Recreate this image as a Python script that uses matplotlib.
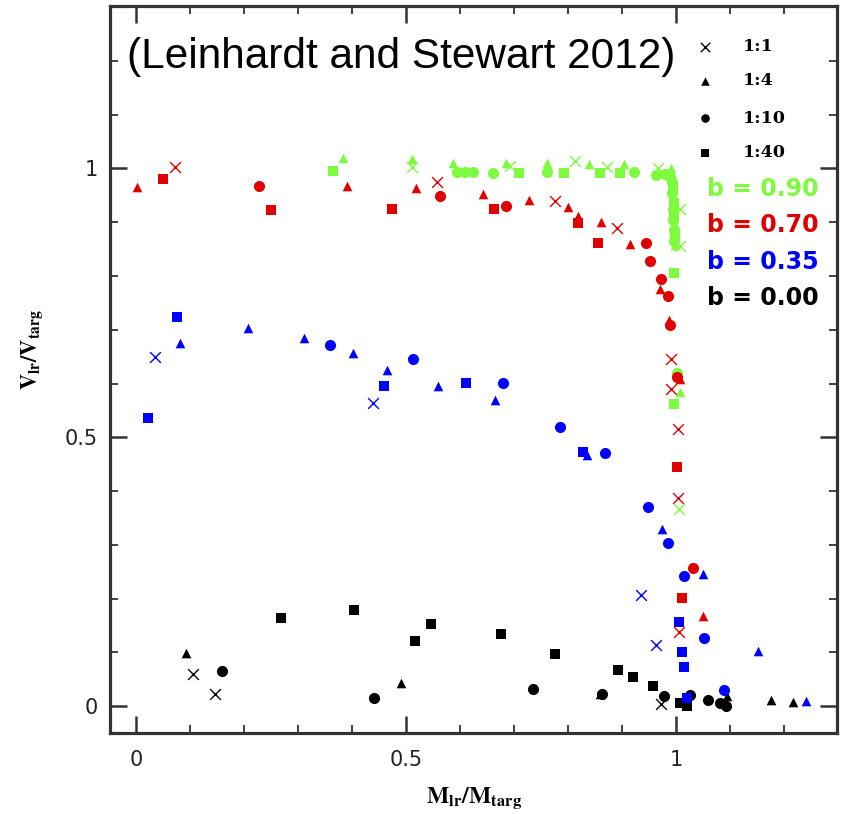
# Leinhardt & Stewart (2012) style plot: V_lr/V_targ vs M_lr/M_targ
import numpy as np
import matplotlib
matplotlib.use('Agg')
import matplotlib.pyplot as plt
from matplotlib.ticker import MultipleLocator

plt.rcParams['mathtext.fontset'] = 'stix'

# impact parameter groups: (x, y, mass ratio)
b00_x = [0.093, 0.106, 0.146, 0.159, 0.269, 0.404, 0.441, 0.491, 0.517, 0.546,
         0.676, 0.735, 0.776, 0.859, 0.863, 0.893, 0.920, 0.957, 0.978, 0.972,
         1.007, 1.020, 1.025, 1.059, 1.082, 1.093, 1.095, 1.176, 1.217]
b00_y = [0.099, 0.060, 0.022, 0.065, 0.164, 0.179, 0.015, 0.043, 0.121, 0.153,
         0.134, 0.032, 0.097, 0.022, 0.022, 0.068, 0.054, 0.038, 0.019, 0.004,
         0.006, 0.000, 0.020, 0.012, 0.006, 0.001, 0.018, 0.012, 0.008]
b00_r = ['1:4', '1:1', '1:1', '1:10', '1:40', '1:40', '1:10', '1:4', '1:40', '1:40',
         '1:40', '1:10', '1:40', '1:4', '1:10', '1:40', '1:40', '1:40', '1:10', '1:1',
         '1:40', '1:40', '1:10', '1:10', '1:10', '1:10', '1:4', '1:4', '1:4']

b35_x = [0.022, 0.035, 0.076, 0.081, 0.207, 0.311, 0.359, 0.402, 0.439, 0.459,
         0.465, 0.513, 0.559, 0.611, 0.665, 0.680, 0.785, 0.828, 0.835, 0.868,
         0.935, 0.948, 0.963, 0.974, 0.985, 1.006, 1.011, 1.015, 1.015, 1.020,
         1.050, 1.052, 1.089, 1.152, 1.241]
b35_y = [0.536, 0.650, 0.724, 0.676, 0.704, 0.685, 0.672, 0.657, 0.564, 0.596,
         0.626, 0.646, 0.596, 0.601, 0.570, 0.601, 0.520, 0.473, 0.467, 0.471,
         0.207, 0.371, 0.114, 0.329, 0.304, 0.156, 0.101, 0.073, 0.242, 0.015,
         0.246, 0.127, 0.030, 0.102, 0.009]
b35_r = ['1:40', '1:1', '1:40', '1:4', '1:4', '1:4', '1:10', '1:4', '1:1', '1:40',
         '1:4', '1:10', '1:4', '1:40', '1:4', '1:10', '1:10', '1:40', '1:4', '1:10',
         '1:1', '1:10', '1:1', '1:4', '1:10', '1:40', '1:40', '1:40', '1:10', '1:40',
         '1:4', '1:10', '1:10', '1:4', '1:4']

b70_x = [0.002, 0.050, 0.072, 0.228, 0.250, 0.390, 0.474, 0.518, 0.557, 0.563,
         0.643, 0.663, 0.685, 0.728, 0.776, 0.800, 0.819, 0.818, 0.861, 0.890,
         0.855, 0.915, 0.944, 0.952, 0.972, 0.970, 0.985, 0.987, 0.989, 0.991,
         1.002, 1.007, 0.991, 1.004, 1.002, 1.004, 1.031, 1.011, 1.050, 1.006]
b70_y = [0.966, 0.981, 1.002, 0.967, 0.922, 0.968, 0.924, 0.963, 0.974, 0.948,
         0.953, 0.924, 0.931, 0.942, 0.940, 0.929, 0.912, 0.899, 0.901, 0.890,
         0.862, 0.860, 0.862, 0.827, 0.795, 0.775, 0.762, 0.719, 0.709, 0.646,
         0.613, 0.609, 0.590, 0.516, 0.445, 0.387, 0.257, 0.201, 0.168, 0.138]
b70_r = ['1:4', '1:40', '1:1', '1:10', '1:40', '1:4', '1:40', '1:4', '1:1', '1:10',
         '1:4', '1:40', '1:10', '1:4', '1:1', '1:4', '1:4', '1:40', '1:4', '1:1',
         '1:40', '1:4', '1:10', '1:10', '1:10', '1:4', '1:10', '1:4', '1:10', '1:1',
         '1:10', '1:4', '1:1', '1:1', '1:40', '1:1', '1:10', '1:40', '1:4', '1:1']

b90_x = [0.365, 0.383, 0.511, 0.511, 0.587, 0.594, 0.609, 0.624, 0.661, 0.685,
         0.693, 0.709, 0.761, 0.761, 0.793, 0.813, 0.839, 0.872, 0.859, 0.904,
         0.896, 0.922, 0.963, 0.967, 0.980, 0.990, 0.988, 0.992, 0.994, 0.992,
         0.995, 0.996, 0.995, 1.007, 0.996, 0.995, 0.997, 0.996, 0.997, 0.996,
         1.007, 0.997, 0.996, 1.002, 1.007, 0.996, 1.006]
b90_y = [0.996, 1.020, 1.018, 1.002, 1.011, 0.994, 0.994, 0.994, 0.992, 1.011,
         1.004, 0.991, 1.011, 0.994, 0.991, 1.013, 1.009, 1.002, 0.991, 1.009,
         0.991, 0.993, 0.987, 1.000, 0.990, 1.000, 0.985, 0.975, 0.965, 0.955,
         0.945, 0.935, 0.925, 0.924, 0.915, 0.905, 0.895, 0.885, 0.875, 0.865,
         0.855, 0.858, 0.806, 0.620, 0.585, 0.562, 0.367]
b90_r = ['1:40', '1:4', '1:4', '1:1', '1:4', '1:10', '1:10', '1:10', '1:10', '1:4',
         '1:1', '1:40', '1:4', '1:10', '1:40', '1:1', '1:4', '1:1', '1:40', '1:4',
         '1:40', '1:10', '1:10', '1:1', '1:10', '1:4', '1:10', '1:10', '1:40', '1:10',
         '1:4', '1:40', '1:10', '1:1', '1:40', '1:10', '1:4', '1:10', '1:40', '1:10',
         '1:1', '1:4', '1:40', '1:10', '1:4', '1:40', '1:1']

ratios = ['1:1', '1:4', '1:10', '1:40']
markers = {'1:1': 'x', '1:4': '^', '1:10': 'o', '1:40': 's'}
sizes = {'1:1': 60, '1:4': 48, '1:10': 64, '1:40': 50}

groups = [('b = 0.00', '#000000', b00_x, b00_y, b00_r),
          ('b = 0.90', '#7cfc3c', b90_x, b90_y, b90_r),
          ('b = 0.70', '#e00000', b70_x, b70_y, b70_r),
          ('b = 0.35', '#0000ff', b35_x, b35_y, b35_r)]
label_order = ['b = 0.90', 'b = 0.70', 'b = 0.35', 'b = 0.00']

fig = plt.figure(figsize=(8.43, 8.14), dpi=100)
ax = fig.add_axes([0.1305, 0.0995, 0.8625, 0.893])

for name, col, xs, ys, rs in groups:
    xs = np.array(xs)
    ys = np.array(ys)
    rs = np.array(rs)
    for r in ratios:
        m = rs == r
        if not m.any():
            continue
        if r == '1:1':
            ax.scatter(xs[m], ys[m], marker='x', s=sizes[r], c=col, linewidths=1.0)
        else:
            ax.scatter(xs[m], ys[m], marker=markers[r], s=sizes[r], c=col, linewidths=0)

# legend: mass ratios
leg_y = [0.944, 0.897, 0.846, 0.798]
for r, yy in zip(ratios, leg_y):
    if r == '1:1':
        ax.scatter([0.818], [yy], marker='x', s=45, c='k', linewidths=1.0,
                   transform=ax.transAxes)
    else:
        ax.scatter([0.818], [yy], marker=markers[r], s=38, c='k', linewidths=0,
                   transform=ax.transAxes)
    ax.text(0.871, yy, r, transform=ax.transAxes, ha='left', va='center',
            fontsize=12.5, fontweight='bold', family='DejaVu Serif')

# legend: impact parameters
cols = {g[0]: g[1] for g in groups}
b_y = [0.748, 0.699, 0.648, 0.598]
for lab, yy in zip(label_order, b_y):
    ax.text(0.821, yy, lab, transform=ax.transAxes, ha='left', va='center',
            fontsize=17, fontweight='bold', color=cols[lab], family='DejaVu Sans')

ax.text(0.023, 0.930, '(Leinhardt and Stewart 2012)', transform=ax.transAxes,
        ha='left', va='center', fontsize=30.5, family='Liberation Sans')

ax.set_xlim(-0.048, 1.298)
ax.set_ylim(-0.05, 1.302)
ax.xaxis.set_major_locator(MultipleLocator(0.5))
ax.xaxis.set_minor_locator(MultipleLocator(0.1))
ax.yaxis.set_major_locator(MultipleLocator(0.5))
ax.yaxis.set_minor_locator(MultipleLocator(0.1))
ax.xaxis.set_major_formatter(plt.FuncFormatter(lambda v, p: '%g' % v))
ax.yaxis.set_major_formatter(plt.FuncFormatter(lambda v, p: '%g' % v))

ax.tick_params(which='both', direction='in', top=True, right=True, colors='#333333',
               labelcolor='#222222')
ax.tick_params(which='major', length=12, width=1.8, labelsize=15)
ax.tick_params(axis='x', which='major', pad=12)
ax.tick_params(axis='y', which='major', pad=9)
ax.tick_params(which='minor', length=6, width=1.3)
for sp in ax.spines.values():
    sp.set_linewidth(2.3)
    sp.set_color('#333333')

ax.set_xlabel(r'$\mathbf{M_{lr}/M_{targ}}$', fontsize=17)
ax.set_ylabel(r'$\mathbf{V_{lr}/V_{targ}}$', fontsize=16)
ax.xaxis.set_label_coords(0.5, -0.072)
ax.yaxis.set_label_coords(-0.09, 0.527)

fig.savefig('out.png', dpi=100)
